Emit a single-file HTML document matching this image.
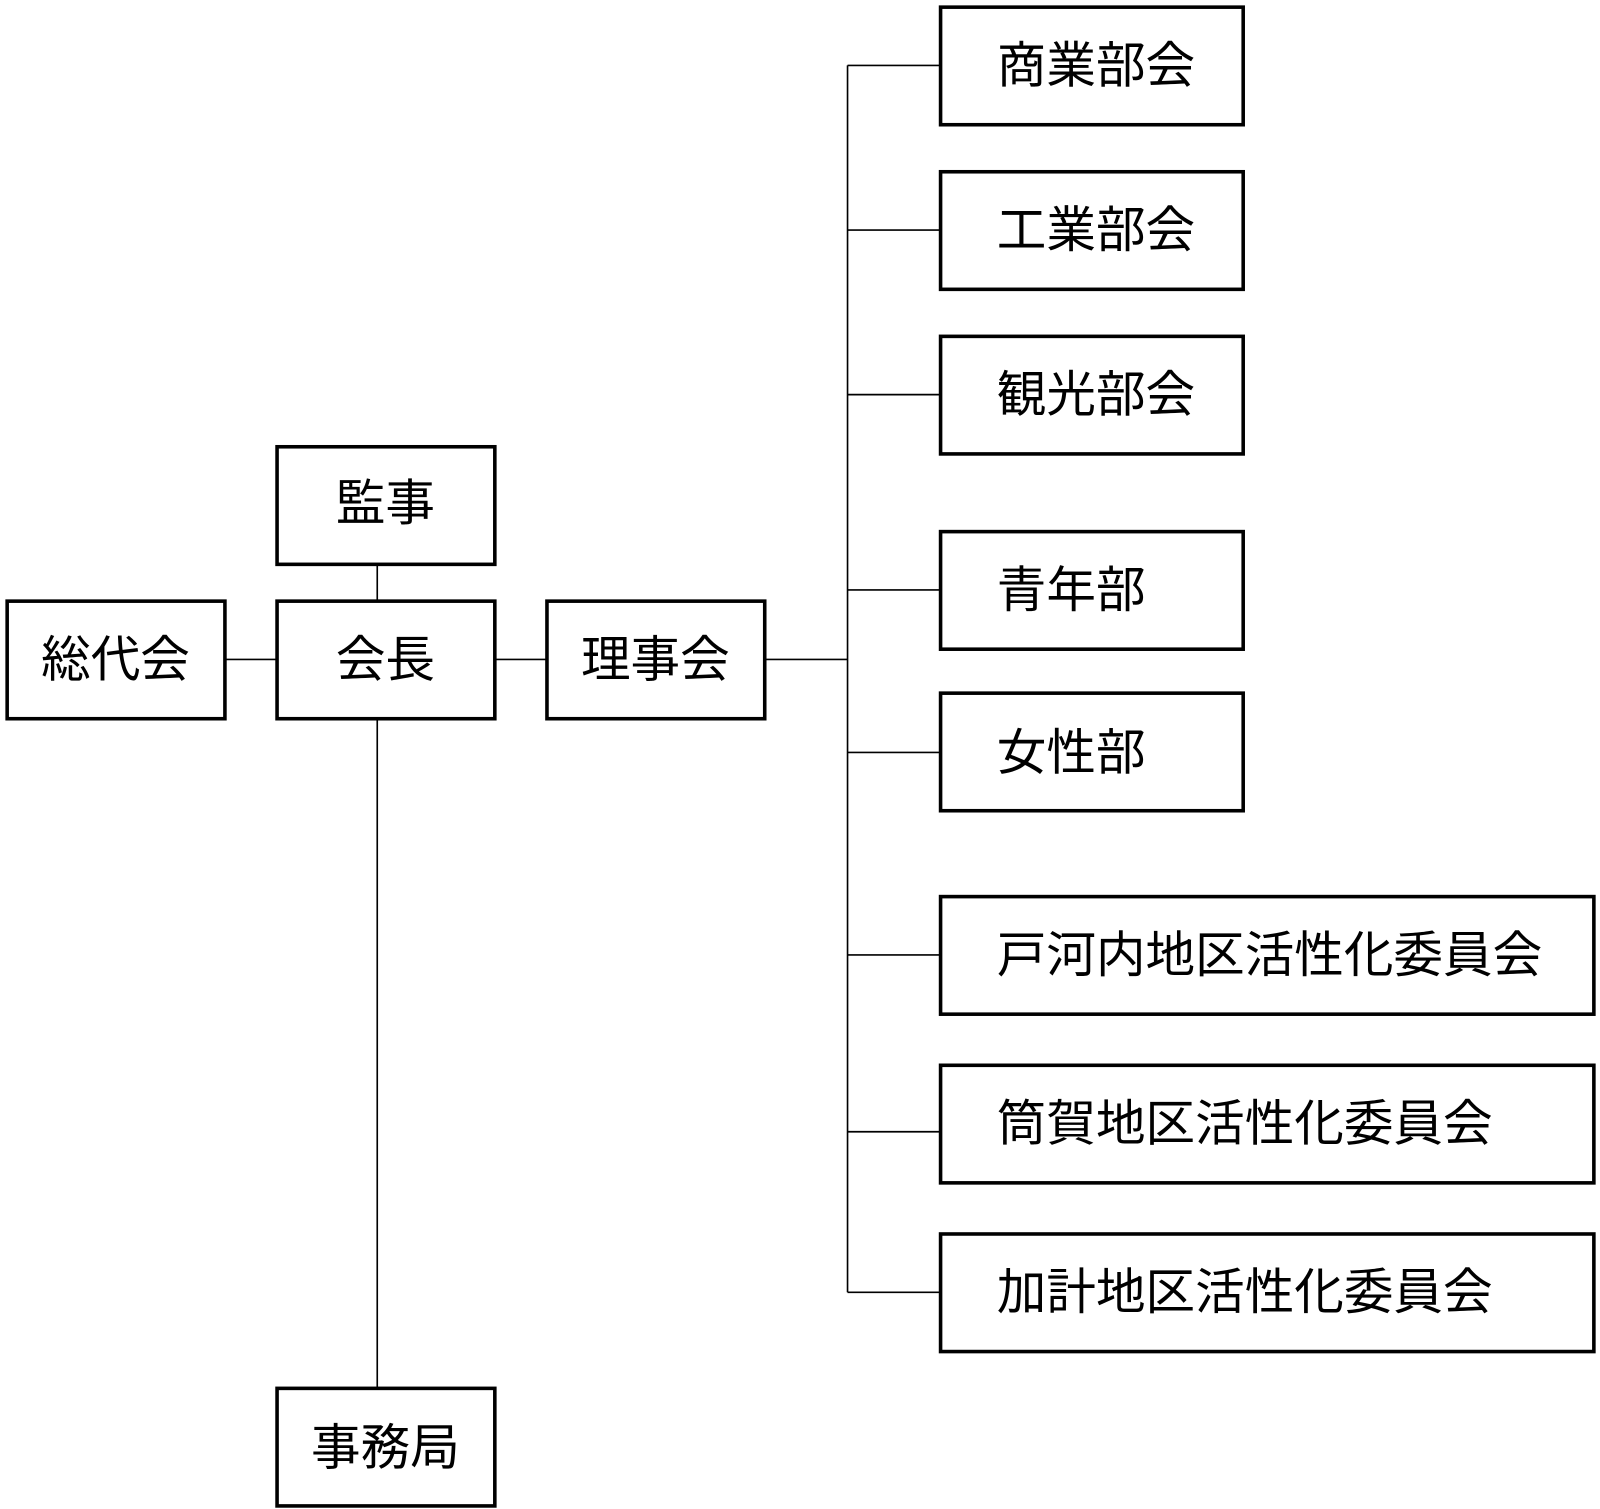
<!DOCTYPE html>
<html><head><meta charset="utf-8"><style>
html,body{margin:0;padding:0;background:#fff}
svg{display:block}
text{font-family:"Liberation Sans","Noto Sans CJK JP",sans-serif;font-size:48.5px;fill:#000;dominant-baseline:central}
</style></head><body>
<svg width="1600" height="1509" viewBox="0 0 1565 1476" preserveAspectRatio="none">
<g stroke="#000" stroke-width="1.6" fill="none">
<line x1="369" y1="552" x2="369" y2="588"/>
<line x1="369" y1="703" x2="369" y2="1358"/>
<line x1="220" y1="645" x2="271" y2="645"/>
<line x1="484" y1="645" x2="535" y2="645"/>
<line x1="748" y1="645" x2="829" y2="645"/>
<line x1="829" y1="64" x2="829" y2="1264"/>
<line x1="829" y1="64" x2="920" y2="64"/>
<line x1="829" y1="225" x2="920" y2="225"/>
<line x1="829" y1="386" x2="920" y2="386"/>
<line x1="829" y1="577" x2="920" y2="577"/>
<line x1="829" y1="736" x2="920" y2="736"/>
<line x1="829" y1="934" x2="920" y2="934"/>
<line x1="829" y1="1107" x2="920" y2="1107"/>
<line x1="829" y1="1264" x2="920" y2="1264"/>
</g>
<g stroke="#000" stroke-width="3.5" fill="#fff">
<rect x="271" y="437" width="213" height="115"/>
<rect x="7" y="588" width="213" height="115"/>
<rect x="271" y="588" width="213" height="115"/>
<rect x="535" y="588" width="213" height="115"/>
<rect x="271" y="1358" width="213" height="115"/>
<rect x="920" y="7" width="296" height="115"/>
<rect x="920" y="168" width="296" height="115"/>
<rect x="920" y="329" width="296" height="115"/>
<rect x="920" y="520" width="296" height="115"/>
<rect x="920" y="678" width="296" height="115"/>
<rect x="920" y="877" width="639" height="115"/>
<rect x="920" y="1042" width="639" height="115"/>
<rect x="920" y="1207" width="639" height="115"/>
</g>
<g text-anchor="middle">
<text x="377" y="492">監事</text>
<text x="113" y="645">総代会</text>
<text x="377" y="645">会長</text>
<text x="641" y="645">理事会</text>
<text x="377" y="1416">事務局</text>
</g>
<g>
<text x="975" y="64">商業部会</text>
<text x="975" y="225">工業部会</text>
<text x="975" y="386">観光部会</text>
<text x="975" y="577">青年部</text>
<text x="975" y="736">女性部</text>
<text x="975" y="934">戸河内地区活性化委員会</text>
<text x="975" y="1099">筒賀地区活性化委員会</text>
<text x="975" y="1264">加計地区活性化委員会</text>
</g>
</svg>
</body></html>
